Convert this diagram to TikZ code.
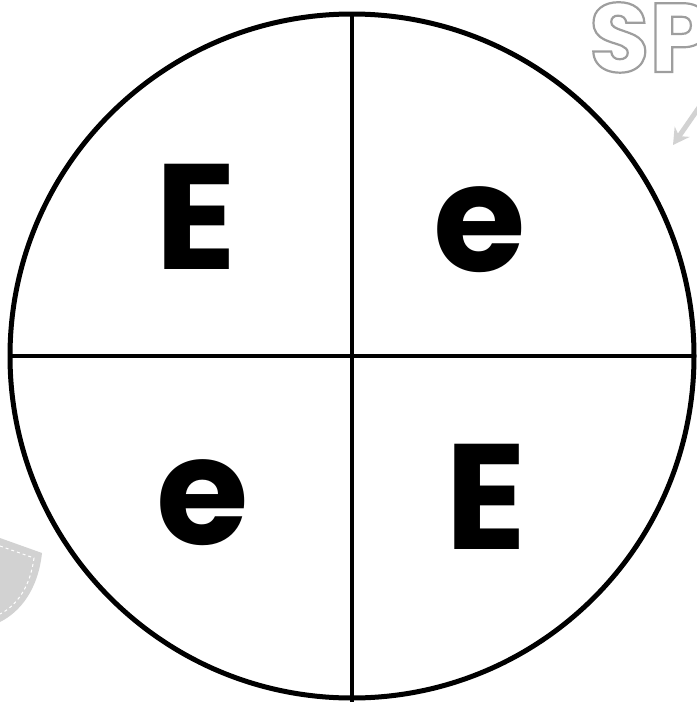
\documentclass[tikz,border=0pt]{standalone}
\usepackage{fontspec}
\setmainfont{Poppins}
\usetikzlibrary{arrows.meta}
\newcommand\outlined[1]{\special{pdf:literal direct 1 Tr 2.2 w 0.62 G}#1\special{pdf:literal direct 0 Tr 0 G}}
\tikzset{
	letter/.style = {font = \fontsize{150}{150}\selectfont\bfseries, inner sep = 0pt},
	ring/.style = {line width = 5pt},
	divider/.style = {line width = 4.4pt}
}
\begin{document}
\begin{tikzpicture}[x = 1pt, y = -1pt]
	\useasboundingbox (0,0) rectangle (696,704);
	% pieces of the page behind
	\node (sp) [font = \fontsize{98}{98}\selectfont\bfseries, anchor = base west, inner sep = 0pt] at (589,72) {\outlined{SP}};
	\coordinate (arrs) at (700,106);
	\coordinate (arre) at (673,145);
	\draw [gray!35, line width = 5pt, -{Stealth[length=16pt, width=18pt]}] (arrs) -- (arre);
	\fill [gray!35] (0,538) -- (42,553) .. controls (38,590) and (20,612) .. (0,622) -- cycle;
	\draw [white, dashed, line width = 1pt] (0,546) -- (34,558) .. controls (30,588) and (16,606) .. (0,614);
	% the square
	\coordinate (c) at (352,356);
	\draw [ring] (c) circle [radius = 342];
	\draw [divider] (c) ++(0,-342) coordinate (top) -- (c |- 0,702) coordinate (bot);
	\draw [divider] (c) ++(-342,0) coordinate (left) -- (694,356) coordinate (right);
	\node (tl) [letter] at (196,217) {E};
	\node (tr) [letter] at (480,230) {e};
	\node (bl) [letter] at (203,503) {e};
	\node (br) [letter] at (486,497) {E};
\end{tikzpicture}
\end{document}
